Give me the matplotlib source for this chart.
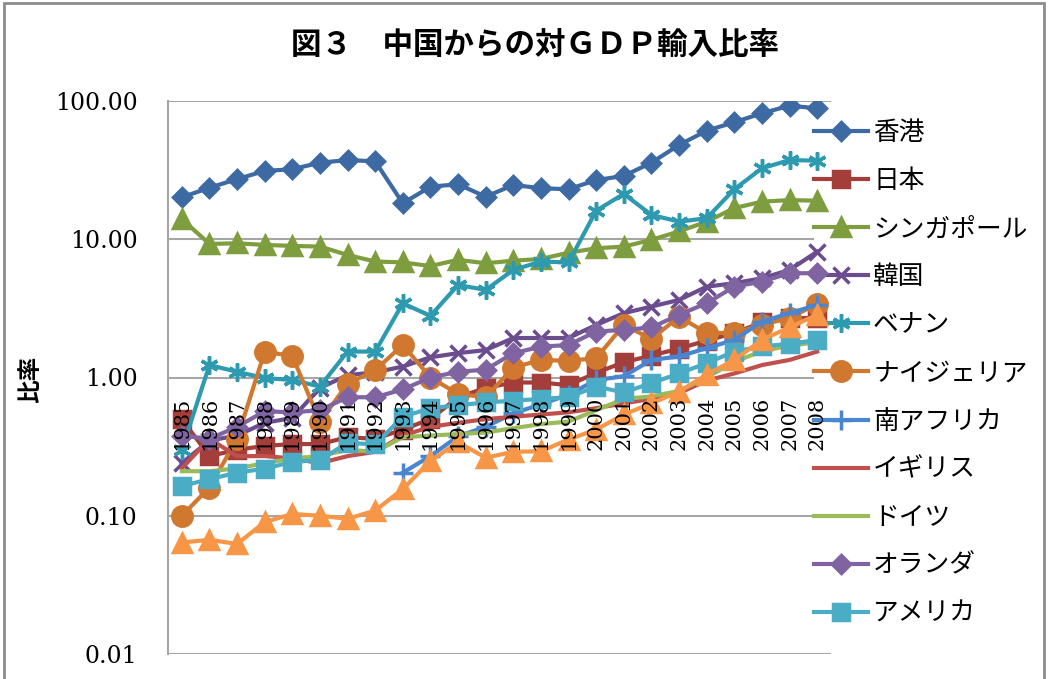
import matplotlib
matplotlib.use("Agg")
import matplotlib.pyplot as plt
import numpy as np
from matplotlib.patches import Rectangle

years = [str(y) for y in range(1985, 2009)]

hongkong = [20.1, 23.6, 27.2, 31.2, 32.1, 35.8, 37.4, 36.6, 18.2, 24.0, 25.0, 20.3,
            24.7, 23.4, 23.0, 26.8, 28.7, 35.8, 48.1, 61.0, 70.2, 81.5, 92.5, 88.5]
japan = [0.50, 0.27, 0.30, 0.32, 0.33, 0.33, 0.37, 0.36, 0.42, 0.50, 0.72, 0.84,
         0.92, 0.92, 0.88, 1.08, 1.29, 1.44, 1.62, 1.85, 2.10, 2.50, 2.68, 2.70]
singapore = [14.0, 9.25, 9.35, 9.1, 8.95, 8.85, 7.7, 6.9, 6.8, 6.4, 7.1, 6.7,
             7.0, 7.2, 8.0, 8.6, 8.85, 9.9, 11.4, 13.4, 16.8, 18.7, 19.2, 19.0]
korea = [0.24, 0.35, 0.38, 0.47, 0.51, 0.84, 1.04, 1.09, 1.20, 1.40, 1.50, 1.58,
         1.93, 1.93, 1.93, 2.40, 2.92, 3.26, 3.64, 4.54, 4.81, 5.22, 6.00, 8.13]
benin = [0.30, 1.23, 1.10, 0.99, 0.96, 0.86, 1.54, 1.54, 3.44, 2.79, 4.67, 4.30,
         6.0, 6.9, 6.8, 16.1, 21.3, 15.0, 13.4, 14.2, 23.0, 32.6, 37.4, 37.0]
nigeria = [0.10, 0.16, 0.36, 1.54, 1.43, 0.48, 0.90, 1.13, 1.72, 1.00, 0.76, 0.72,
           1.18, 1.34, 1.32, 1.38, 2.40, 1.90, 2.75, 2.10, 2.10, 2.40, 2.70, 3.40]
safrica = [np.nan] * 8 + [0.205, 0.27, 0.376, 0.44, 0.55, 0.64, 0.75, 0.96,
                          1.02, 1.34, 1.42, 1.63, 1.87, 2.54, 2.92, 3.35]
uk = [0.22, 0.36, 0.27, 0.27, 0.26, 0.24, 0.27, 0.29, 0.38, 0.44, 0.47, 0.50,
      0.52, 0.54, 0.56, 0.60, 0.65, 0.70, 0.77, 0.95, 1.07, 1.23, 1.34, 1.54]
germany = [0.21, 0.21, 0.22, 0.24, 0.26, 0.27, 0.30, 0.29, 0.37, 0.38, 0.39, 0.40,
           0.43, 0.46, 0.48, 0.58, 0.70, 0.73, 0.80, 1.00, 1.30, 1.55, 1.70, 1.80]
netherlands = [0.38, 0.36, 0.44, 0.57, 0.56, 0.58, 0.72, 0.72, 0.82, 1.00, 1.10, 1.14,
               1.50, 1.67, 1.72, 2.15, 2.21, 2.30, 2.84, 3.45, 4.54, 4.94, 5.68, 5.68]
usa = [0.164, 0.184, 0.205, 0.219, 0.245, 0.253, 0.337, 0.328, 0.52, 0.60, 0.63, 0.66,
       0.68, 0.70, 0.72, 0.86, 0.78, 0.91, 1.07, 1.27, 1.54, 1.68, 1.75, 1.87]
# 12th series, its legend entry is cut off in the original
other = [0.064, 0.067, 0.0625, 0.090, 0.103, 0.100, 0.095, 0.109, 0.156, 0.249, 0.34, 0.263,
         0.29, 0.293, 0.356, 0.42, 0.54, 0.65, 0.79, 1.05, 1.34, 1.87, 2.31, 2.84]

names = ["香港", "日本", "シンガポール", "韓国", "ベナン", "ナイジェリア",
         "南アフリカ", "イギリス", "ドイツ", "オランダ", "アメリカ", ""]
series = [hongkong, japan, singapore, korea, benin, nigeria,
          safrica, uk, germany, netherlands, usa, other]
colors = ["#3D6AA3", "#A33E3A", "#7E9D3E", "#6B4C8F", "#2E9AB0", "#D0782F",
          "#4A86D0", "#C0504D", "#9BBB59", "#8064A2", "#4BACC6", "#F79646"]
markers = ["D", "s", "^", "x", (6, 2, 0), "o", "+", "", "", "D", "s", "^"]
msizes = [9, 12, 13, 12, 13, 14, 14, 0, 0, 9, 12, 13]

plt.rcParams['font.family'] = ['DejaVu Serif', 'Noto Sans CJK JP']
jp = ['Noto Sans CJK JP', 'DejaVu Sans']


def plot():
    fig = plt.figure(figsize=(10.48, 6.79), dpi=100)
    ax = fig.add_axes([168 / 1048, 1 - 654 / 679, 663 / 1048, 553 / 679])
    x = np.arange(len(years))

    lines = []
    for vals, name, c, m, ms in zip(series, names, colors, markers, msizes):
        ln, = ax.plot(x, vals, color=c, lw=3, marker=m, ms=ms,
                      markerfacecolor=c, markeredgecolor=c, mew=2.5, label=name)
        lines.append(ln)

    ax.set_yscale('log')
    ax.set_ylim(0.01, 100)
    ax.set_xlim(-0.5, len(years) - 0.5)
    ax.set_yticks([0.01, 0.1, 1, 10, 100])
    ax.set_yticklabels(['0.01', '0.10', '1.00', '10.00', '100.00'])
    ax.minorticks_off()
    ax.yaxis.grid(True, color='#A6A6A6', lw=1.5)
    ax.set_axisbelow(True)

    # category axis crosses at 1.00 like Excel does on log scale
    ax.spines['bottom'].set_position(('data', 1.0))
    ax.spines['bottom'].set_visible(False)
    ax.spines['top'].set_visible(False)
    ax.spines['right'].set_visible(False)
    ax.spines['left'].set_color('#A6A6A6')
    ax.spines['left'].set_linewidth(1.5)
    ax.set_xticks(x)
    ax.set_xticklabels(years, rotation=90)
    ax.tick_params(axis='x', length=0, pad=14, labelsize=15)
    ax.tick_params(axis='y', length=0, pad=22, labelsize=17)
    # year labels sit on top of the lines
    ax.xaxis.set_zorder(5)

    leg = ax.legend(lines[:11], names[:11], loc='upper left',
                    bbox_to_anchor=(814 / 1048, 1 - 120 / 679),
                    bbox_transform=fig.transFigure, frameon=True,
                    facecolor='white', edgecolor='none', framealpha=1,
                    borderpad=0, borderaxespad=0, handlelength=2.1,
                    handletextpad=0.2, labelspacing=0.86,
                    prop={'family': jp, 'size': 18.5})
    leg.set_zorder(1)

    fig.text(535 / 1048, 1 - 46 / 679, "図３　中国からの対ＧＤＰ輸入比率",
             family=jp, fontsize=22, weight='bold', ha='center', va='center')
    fig.text(30 / 1048, 1 - 379 / 679, "比率", family=jp, fontsize=17,
             weight='bold', rotation=90, ha='center', va='center')

    fig.patches.append(Rectangle((4 / 1048, -0.02), 1040 / 1048, 1.015,
                                 transform=fig.transFigure, fill=False,
                                 edgecolor='#8C8C8C', lw=2))
    fig.savefig('out.png', dpi=100)


def main():
    plot()


if __name__ == "__main__":
    main()
